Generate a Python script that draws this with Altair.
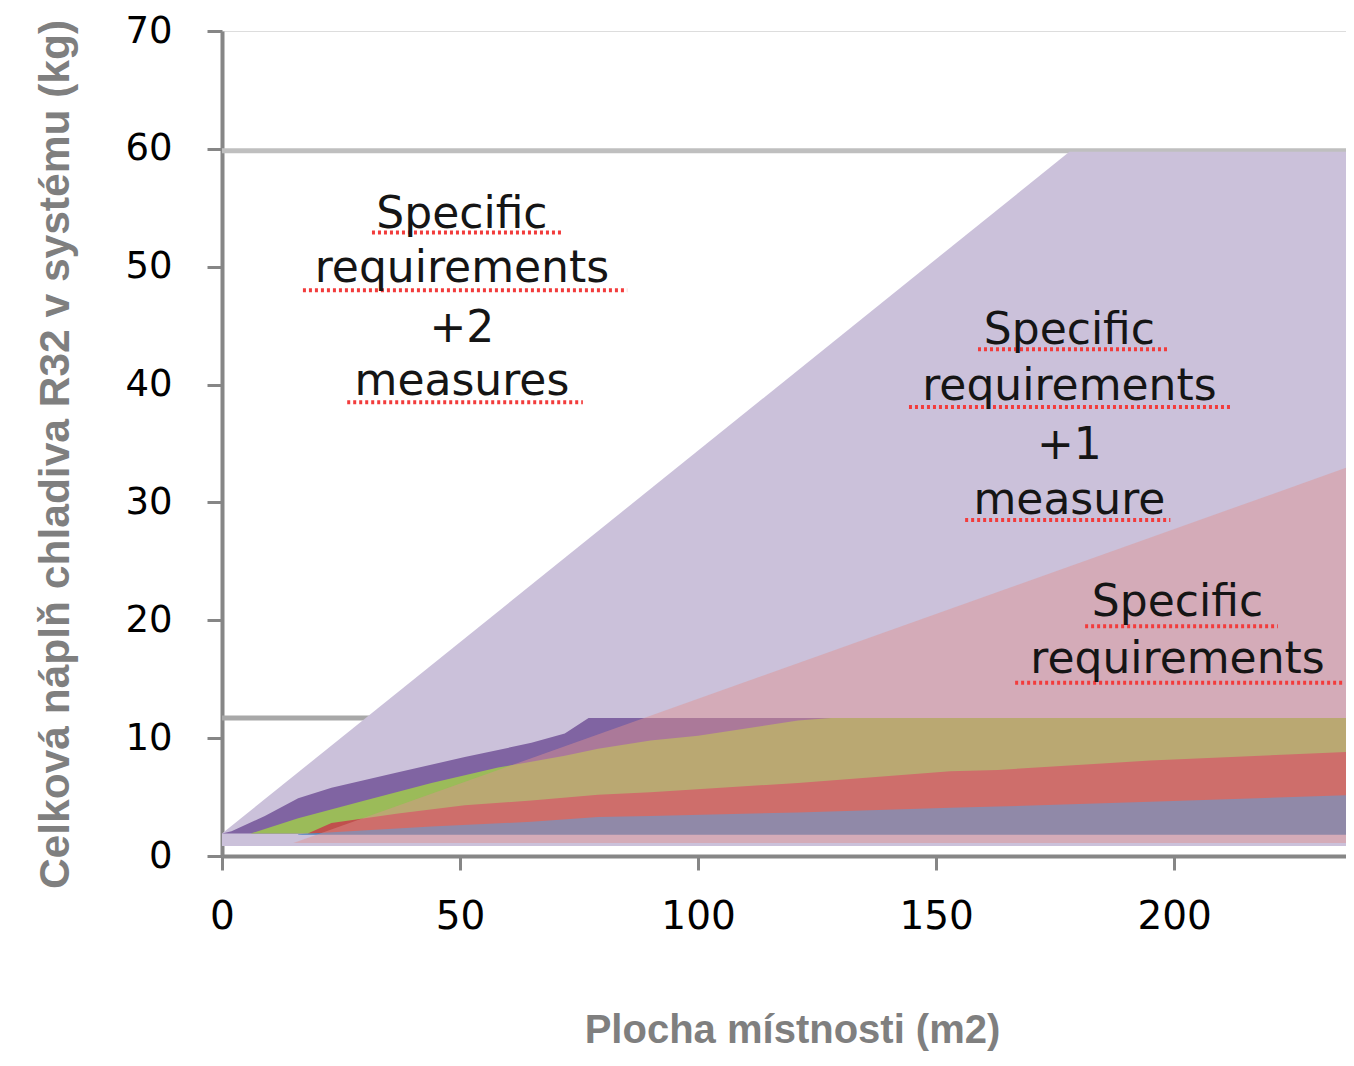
import altair as alt
import pandas as pd

# ---- data ----
X_MAX = 236.1

lav_x = [0, 178, 240]
lav_top = [1.9, 59.75, 59.75]
lav_bottom = 0.85

purple_x = [0, 2, 9, 16, 23, 37, 51, 65, 72, 77, 240]
purple_top = [1.9, 2.1, 3.4, 4.9, 5.8, 7.1, 8.4, 9.6, 10.4, 11.7, 11.7]

green_x = [6, 16, 30, 44, 58, 72, 79, 90, 100, 121, 128, 240]
green_top = [1.9, 3.2, 4.7, 6.2, 7.5, 8.5, 9.1, 9.8, 10.2, 11.5, 11.7, 11.7]

red_x = [18, 23, 37, 51, 65, 79, 90, 121, 153, 163, 195, 240]
red_top = [1.9, 2.8, 3.6, 4.3, 4.7, 5.2, 5.4, 6.2, 7.2, 7.3, 8.1, 8.9]

blue_x = [16, 44, 65, 79, 90, 121, 153, 163, 195, 240]
blue_top = [1.85, 2.5, 2.9, 3.3, 3.4, 3.7, 4.1, 4.2, 4.6, 5.2]

pink_x = [15, 240]
pink_top = [1.1, 33.5]
pink_bottom = 1.1

limit_lines = [11.7, 59.85]
limit_colors = ["#A8A8A8", "#BFBFBF"]

ann_text = ["Specific", "requirements", "+2", "measures",
            "Specific", "requirements", "+1", "measure",
            "Specific", "requirements"]
ann_x = [50.4, 50.4, 50.4, 50.4, 178, 178, 178, 178, 200.7, 200.7]
ann_y = [53.3, 48.7, 43.6, 39.1, 43.45, 38.7, 33.7, 29.0, 20.4, 15.55]

sq_x1 = [31.5, 17.0, 26.3, 158.8, 144.3, 156.1, 181.3, 166.6]
sq_x2 = [71.4, 85.1, 75.8, 198.7, 212.2, 199.2, 221.8, 235.3]
sq_y = [52.9, 48.0, 38.5, 43.0, 38.1, 28.5, 19.5, 14.7]

x_ticks = [0, 50, 100, 150, 200]
y_ticks = [0, 10, 20, 30, 40, 50, 60, 70]

# ---- scales / axes ----
xscale = alt.Scale(domain=[0, X_MAX], nice=False, zero=False)
yscale = alt.Scale(domain=[0, 70], nice=False)

xaxis = alt.Axis(values=x_ticks, title="Plocha místnosti (m2)", grid=False,
                 domainColor="#868686", domainWidth=4, tickColor="#868686",
                 tickWidth=3, tickSize=14, labelFont="DejaVu Sans",
                 labelFontSize=39, labelColor="#000000", labelPadding=27,
                 labelFlush=False, labelOverlap=False,
                 titleFont="Liberation Sans", titleFontWeight="bold",
                 titleFontSize=40, titleColor="#7F7F7F", titleX=570,
                 titleY=186, titleBaseline="alphabetic", titleAlign="center")
yaxis = alt.Axis(values=y_ticks, title="Celková náplň chladiva R32 v systému (kg)",
                 grid=False, domainColor="#868686", domainWidth=4,
                 tickColor="#868686", tickWidth=3, tickSize=15,
                 labelFont="DejaVu Sans", labelFontSize=37, labelColor="#000000",
                 labelPadding=35, labelOverlap=False,
                 titleFont="Liberation Sans", titleFontWeight="bold",
                 titleFontSize=42.5, titleColor="#7F7F7F", titleX=-154,
                 titleY=423, titleAngle=270, titleBaseline="alphabetic",
                 titleAlign="center")

X = alt.X("x:Q", scale=xscale, axis=xaxis)
Y = alt.Y("top:Q", scale=yscale, axis=yaxis)


def area(xs, tops, bottom, color, opacity=1.0):
    df = pd.DataFrame({"x": xs, "top": tops, "bottom": [bottom] * len(xs)})
    return alt.Chart(df).mark_area(color=color, opacity=opacity, clip=True,
                                   interpolate="linear").encode(
        x=X, y=Y, y2="bottom:Q")


rules_df = pd.DataFrame({"top": limit_lines, "c": limit_colors})
rules = alt.Chart(rules_df).mark_rule(strokeWidth=5, clip=True).encode(
    y=Y, color=alt.Color("c:N", scale=None))

layers = [
    rules,
    area(lav_x, lav_top, lav_bottom, "#CBC1DA"),
    area(purple_x, purple_top, 1.9, "#8064A2"),
    area(green_x, green_top, 1.9, "#9BBB59"),
    area(red_x, red_top, 1.9, "#C0504D"),
    area(blue_x, blue_top, 1.8, "#4F81BD"),
    area(pink_x, pink_top, pink_bottom, "#DF9190", 0.46),
]

sq_df = pd.DataFrame({"x": sq_x1, "x2": sq_x2, "top": sq_y})
squig = alt.Chart(sq_df).mark_rule(color="#F23C3C", strokeWidth=4,
                                   strokeDash=[3, 3]).encode(
    x=X, x2="x2:Q", y=Y)

ann_df = pd.DataFrame({"x": ann_x, "top": ann_y, "label": ann_text})
texts = alt.Chart(ann_df).mark_text(font="DejaVu Sans", fontSize=44,
                                    color="#151515", align="center",
                                    baseline="alphabetic").encode(
    x=X, y=Y, text="label:N")

chart = alt.layer(*layers, squig, texts).properties(
    width=1124, height=825,
    autosize=alt.AutoSizeParams(type="none"),
    padding={"left": 214, "top": 23, "right": 0, "bottom": 212},
).configure_view(stroke=None).configure(background="white")

chart.save("out.html", embed_options={"renderer": "svg", "actions": False})
